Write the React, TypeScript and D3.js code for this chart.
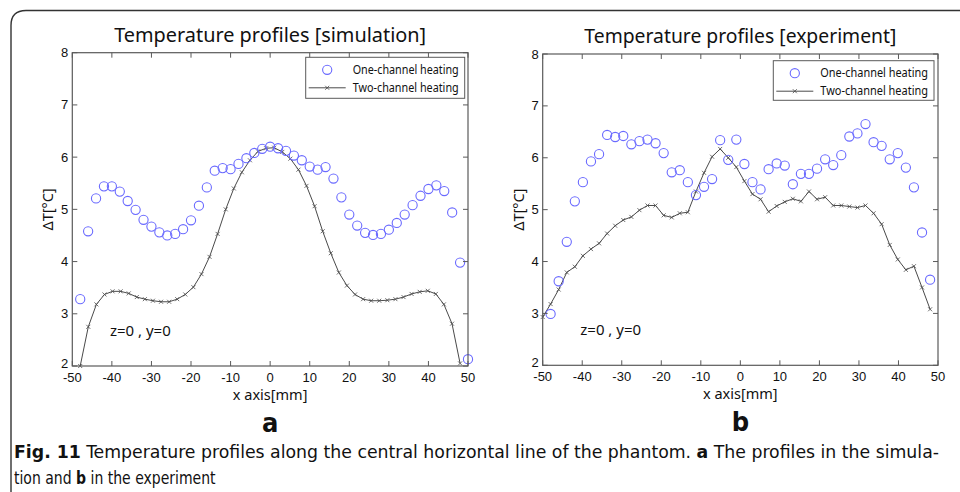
import React from "react";
import * as d3 from "d3";

// ---------- data ----------
const xTicks = [-50, -40, -30, -20, -10, 0, 10, 20, 30, 40, 50];
const yTicks = [2, 3, 4, 5, 6, 7, 8];

const simOneX = [-48, -46, -44, -42, -40, -38, -36, -34, -32, -30, -28, -26, -24, -22, -20, -18, -16, -14, -12, -10, -8, -6, -4, -2, 0, 2, 4, 6, 8, 10, 12, 14, 16, 18, 20, 22, 24, 26, 28, 30, 32, 34, 36, 38, 40, 42, 44, 46, 48, 50];
const simOneY = [3.28, 4.58, 5.21, 5.44, 5.44, 5.34, 5.16, 4.99, 4.8, 4.67, 4.56, 4.5, 4.53, 4.62, 4.79, 5.07, 5.42, 5.74, 5.79, 5.77, 5.87, 5.98, 6.08, 6.16, 6.2, 6.17, 6.12, 6.03, 5.94, 5.82, 5.76, 5.81, 5.59, 5.23, 4.9, 4.69, 4.55, 4.51, 4.53, 4.61, 4.74, 4.9, 5.08, 5.26, 5.39, 5.46, 5.35, 4.94, 3.98, 2.13];

const gridX = [-48, -45.96, -43.91, -41.87, -39.83, -37.79, -35.74, -33.7, -31.66, -29.62, -27.57, -25.53, -23.49, -21.45, -19.4, -17.36, -15.32, -13.28, -11.23, -9.19, -7.15, -5.11, -3.06, -1.02, 1.02, 3.06, 5.11, 7.15, 9.19, 11.23, 13.28, 15.32, 17.36, 19.4, 21.45, 23.49, 25.53, 27.57, 29.62, 31.66, 33.7, 35.74, 37.79, 39.83, 41.87, 43.91, 45.96, 48];
const simTwoY = [2.0, 2.75, 3.18, 3.37, 3.43, 3.43, 3.39, 3.32, 3.28, 3.25, 3.23, 3.23, 3.28, 3.37, 3.51, 3.76, 4.09, 4.53, 5.0, 5.4, 5.71, 5.94, 6.11, 6.17, 6.18, 6.1, 5.97, 5.76, 5.45, 5.06, 4.58, 4.16, 3.79, 3.54, 3.37, 3.28, 3.25, 3.25, 3.26, 3.28, 3.32, 3.38, 3.42, 3.44, 3.38, 3.18, 2.81, 2.05];

const expOneY = [2.99, 3.62, 4.38, 5.16, 5.53, 5.93, 6.07, 6.44, 6.4, 6.42, 6.26, 6.32, 6.35, 6.28, 6.09, 5.72, 5.76, 5.53, 5.28, 5.44, 5.59, 6.34, 5.96, 6.35, 5.88, 5.53, 5.39, 5.78, 5.89, 5.85, 5.49, 5.69, 5.69, 5.79, 5.97, 5.86, 6.05, 6.41, 6.47, 6.65, 6.3, 6.23, 5.97, 6.09, 5.81, 5.43, 4.56, 3.65];
const expTwoX = [-50, ...gridX];
const expTwoY = [2.93, 3.18, 3.46, 3.79, 3.9, 4.11, 4.24, 4.35, 4.54, 4.69, 4.8, 4.86, 4.99, 5.08, 5.08, 4.89, 4.85, 4.93, 4.95, 5.35, 5.71, 6.02, 6.17, 6.0, 5.82, 5.55, 5.3, 5.2, 4.96, 5.07, 5.15, 5.21, 5.16, 5.35, 5.2, 5.24, 5.08, 5.08, 5.06, 5.04, 5.08, 4.93, 4.72, 4.32, 4.04, 3.84, 3.91, 3.5, 3.08];

const legendLabels = ["One-channel heating", "Two-channel heating"];

// ---------- styles ----------
const AXIS = "#5a5a5a";
const CIRCLE = "#6a6aff";
const LINE = "#4a4a4a";
const TICKFONT = "'Liberation Sans', Arial, sans-serif";
const UIFONT = "'Noto Sans', 'Open Sans', sans-serif";
const CAPFONT = "'Liberation Sans Narrow', 'DejaVu Sans Condensed', 'Roboto Condensed', sans-serif";

type PanelProps = {
  x0: number; x1: number; y0: number; y1: number;
  title: string;
  oneX: number[]; oneY: number[];
  twoX: number[]; twoY: number[];
  legend: { x: number; y: number; w: number; h: number };
  letter: string;
};

function Panel(p: PanelProps) {
  const x = d3.scaleLinear().domain([-50, 50]).range([p.x0, p.x1]);
  const y = d3.scaleLinear().domain([2, 8]).range([p.y1, p.y0]);
  const line = d3.line<[number, number]>().x((d) => x(d[0])).y((d) => y(d[1]));
  const twoPts: [number, number][] = p.twoX.map((v, i) => [v, p.twoY[i]]);
  const cx = (p.x0 + p.x1) / 2;
  const T = 5;
  const lg = p.legend;
  return (
    <g>
      <text x={cx} y={p.y0 - 11} textAnchor="middle" fontFamily={UIFONT} fontSize={19.5} fill="#111" textLength={312} lengthAdjust="spacingAndGlyphs">{p.title}</text>
      {/* data */}
      <path d={line(twoPts) || ""} fill="none" stroke={LINE} strokeWidth={1} />
      {twoPts.map((d, i) => (
        <path key={"m" + i} d={`M${x(d[0]) - 2},${y(d[1]) - 2}L${x(d[0]) + 2},${y(d[1]) + 2}M${x(d[0]) - 2},${y(d[1]) + 2}L${x(d[0]) + 2},${y(d[1]) - 2}`} stroke={LINE} strokeWidth={0.8} />
      ))}
      {p.oneX.map((v, i) => (
        <circle key={"c" + i} cx={x(v)} cy={y(p.oneY[i])} r={4.6} fill="none" stroke={CIRCLE} strokeWidth={1.1} />
      ))}
      {/* axes box */}
      <rect x={p.x0} y={p.y0} width={p.x1 - p.x0} height={p.y1 - p.y0} fill="none" stroke={AXIS} strokeWidth={1.2} />
      {xTicks.map((t) => (
        <g key={"xt" + t}>
          <line x1={x(t)} x2={x(t)} y1={p.y1} y2={p.y1 - T} stroke={AXIS} />
          <line x1={x(t)} x2={x(t)} y1={p.y0} y2={p.y0 + T} stroke={AXIS} />
          <text x={x(t)} y={p.y1 + 15.5} textAnchor="middle" fontFamily={TICKFONT} fontSize={13} fill="#111">{t}</text>
        </g>
      ))}
      {yTicks.map((t) => (
        <g key={"yt" + t}>
          <line x1={p.x0} x2={p.x0 + T} y1={y(t)} y2={y(t)} stroke={AXIS} />
          <line x1={p.x1} x2={p.x1 - T} y1={y(t)} y2={y(t)} stroke={AXIS} />
          <text x={p.x0 - 4} y={y(t) + (t === 2 ? 1.5 : 4.5)} textAnchor="end" fontFamily={TICKFONT} fontSize={13} fill="#111">{t}</text>
        </g>
      ))}
      {/* labels */}
      <text x={cx} y={p.y1 + 34} textAnchor="middle" fontFamily={UIFONT} fontSize={14.5} fill="#111">x axis[mm]</text>
      <text transform={`translate(${p.x0 - 19},${(p.y0 + p.y1) / 2}) rotate(-90)`} textAnchor="middle" fontFamily={UIFONT} fontSize={14.5} fill="#111">ΔT[°C]</text>
      <text x={x(-40.5)} y={y(2.58)} fontFamily={UIFONT} fontSize={15} fill="#111">z=0 , y=0</text>
      {/* legend */}
      <rect x={lg.x} y={lg.y} width={lg.w} height={lg.h} fill="#fff" stroke={AXIS} strokeWidth={1} />
      <circle cx={lg.x + 21.5} cy={lg.y + 12.5} r={4.6} fill="none" stroke={CIRCLE} strokeWidth={1.1} />
      <text x={lg.x + 47} y={lg.y + 16.5} fontFamily={UIFONT} fontSize={12} fill="#111" textLength={lg.w - 53} lengthAdjust="spacingAndGlyphs">{legendLabels[0]}</text>
      <line x1={lg.x + 3} x2={lg.x + 40} y1={lg.y + 30.5} y2={lg.y + 30.5} stroke={LINE} strokeWidth={1} />
      <path d={`M${lg.x + 19.5},${lg.y + 28.5}L${lg.x + 23.5},${lg.y + 32.5}M${lg.x + 19.5},${lg.y + 32.5}L${lg.x + 23.5},${lg.y + 28.5}`} stroke={LINE} strokeWidth={0.8} />
      <text x={lg.x + 47} y={lg.y + 34.5} fontFamily={UIFONT} fontSize={12} fill="#111" textLength={lg.w - 53} lengthAdjust="spacingAndGlyphs">{legendLabels[1]}</text>
      <text x={cx} y={p.y1 + 66} textAnchor="middle" fontFamily={CAPFONT} fontWeight="bold" fontSize={27} fill="#111">{p.letter}</text>
    </g>
  );
}

export default function App() {
  return (
    <svg width={960} height={492} style={{ position: "absolute", left: 0, top: 0, background: "#fff" }}>
      <rect x={0} y={0} width={960} height={492} fill="#fff" />
      <path d="M960,10.5 H26 Q11,10.5 11,25.5 V492" fill="none" stroke="#333" strokeWidth={1.4} />
      <Panel x0={72.3} x1={468} y0={52.7} y1={366} title="Temperature profiles [simulation]"
        oneX={simOneX} oneY={simOneY} twoX={gridX} twoY={simTwoY}
        legend={{ x: 305.7, y: 57.3, w: 159, h: 41 }} letter="a" />
      <Panel x0={542.7} x1={938} y0={54} y1={365.3} title="Temperature profiles [experiment]"
        oneX={gridX} oneY={expOneY} twoX={expTwoX} twoY={expTwoY}
        legend={{ x: 773.3, y: 60.7, w: 160.7, h: 39.6 }} letter="b" />
      <text x={14} y={458} fontFamily={CAPFONT} fontSize={17.5} fill="#111" textLength={925} lengthAdjust="spacingAndGlyphs">
        <tspan fontWeight="bold">Fig. 11</tspan>
        <tspan>{"  Temperature profiles along the central horizontal line of the phantom. "}</tspan>
        <tspan fontWeight="bold">a</tspan>
        <tspan>{" The profiles in the simula-"}</tspan>
      </text>
      <text transform="translate(14,484) scale(0.89,1)" fontFamily={CAPFONT} fontSize={17.5} fill="#111">
        <tspan>{"tion and "}</tspan>
        <tspan fontWeight="bold">b</tspan>
        <tspan>{" in the experiment"}</tspan>
      </text>
    </svg>
  );
}
